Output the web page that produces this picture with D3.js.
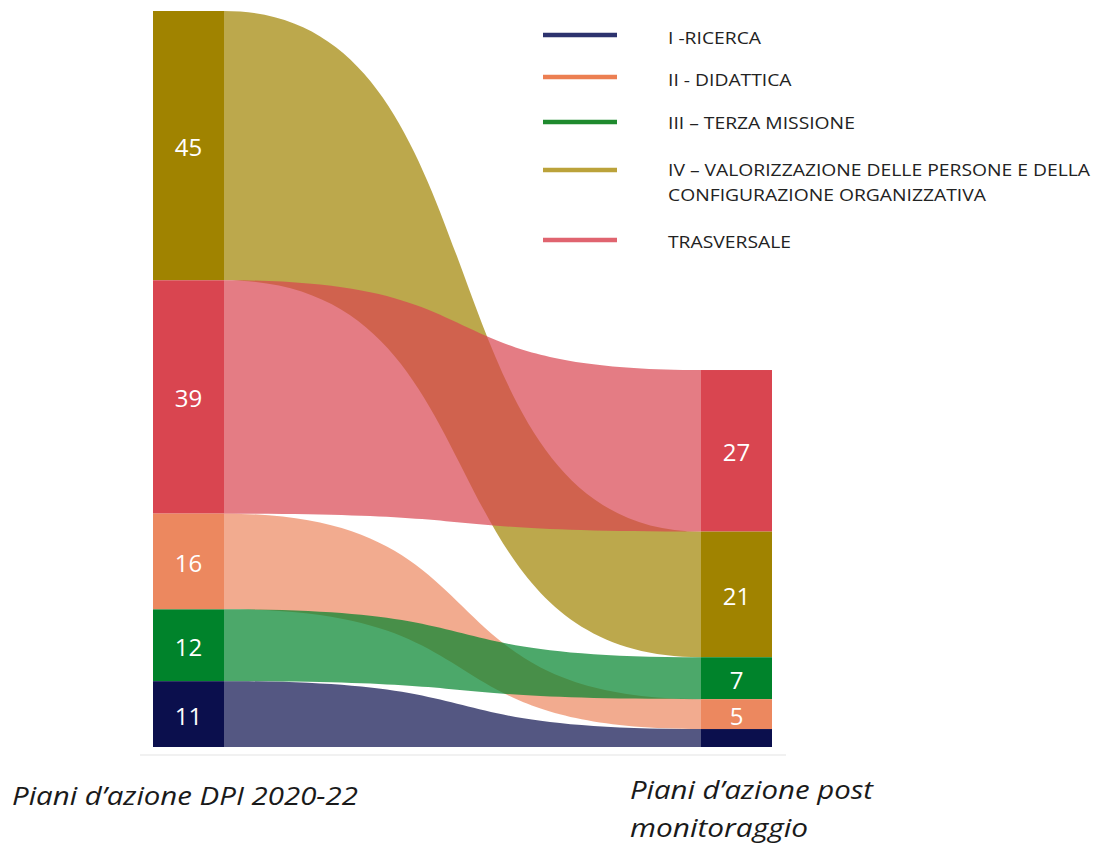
<!DOCTYPE html>
<html>
<head>
<meta charset="utf-8">
<script src="https://cdn.jsdelivr.net/npm/d3@7"></script>
<style>
  html, body { margin: 0; padding: 0; background: #fff; }
  svg { display: block; }
</style>
</head>
<body>
<svg id="chart" width="1096" height="849"></svg>
<script>
// ---- Data ----
const categories = ["IV", "TRASVERSALE", "II", "III", "I"]; // left order, top to bottom
const leftValues = [45, 39, 16, 12, 11];
const rightOrder = ["TRASVERSALE", "IV", "III", "II", "I"]; // right order, top to bottom
const rightValuesByCat = { "TRASVERSALE": 27, "IV": 21, "III": 7, "II": 5, "I": 3 };
const rightLabelsByCat = { "TRASVERSALE": "27", "IV": "21", "III": "7", "II": "5", "I": "" };
const nodeColors = { "IV": "#a08300", "TRASVERSALE": "#d94550", "II": "#ec885f", "III": "#00832b", "I": "#0b0f4d" };
const legendCats = ["I", "II", "III", "IV", "TRASVERSALE"];
const legendLabels = [
  ["I -RICERCA"],
  ["II - DIDATTICA"],
  ["III \u2013 TERZA MISSIONE"],
  ["IV \u2013 VALORIZZAZIONE DELLE PERSONE E DELLA", "CONFIGURAZIONE ORGANIZZATIVA"],
  ["TRASVERSALE"]
];
const legendColors = ["#2d336e", "#ec7f52", "#1f8a2e", "#bba23a", "#e0646f"];
const axisLabelLeft = ["Piani d\u2019azione DPI 2020-22"];
const axisLabelRight = ["Piani d\u2019azione post", "monitoraggio"];
const linkDrawOrder = ["IV", "TRASVERSALE", "II", "III", "I"];

// ---- Layout ----
const svg = d3.select("#chart");
const total = d3.sum(leftValues);
const plotTop = 11, plotBottom = 747;
const h = d3.scaleLinear().domain([0, total]).range([0, plotBottom - plotTop]);
const x = d3.scalePoint().domain(["left", "right"]).range([153, 701]);
const nodeW = 71;

// left nodes
const leftNodes = {};
let acc = 0;
categories.forEach((c, i) => {
  leftNodes[c] = { y0: plotTop + h(acc), y1: plotTop + h(acc + leftValues[i]), v: leftValues[i] };
  acc += leftValues[i];
});
// right nodes (bottom-aligned)
const rightTotal = d3.sum(rightOrder, c => rightValuesByCat[c]);
const rightNodes = {};
acc = 0;
rightOrder.forEach(c => {
  const v = rightValuesByCat[c];
  rightNodes[c] = { y0: plotBottom - h(rightTotal) + h(acc), y1: plotBottom - h(rightTotal) + h(acc + v), v };
  acc += v;
});

// baseline
svg.append("line")
  .attr("x1", 140).attr("x2", 786).attr("y1", 755).attr("y2", 755)
  .attr("stroke", "#ececec").attr("stroke-width", 1.5);

// links
const x0 = x("left") + nodeW, x1 = x("right");
const k = 0.6;
const xa = x0 + k * (x1 - x0), xb = x1 - k * (x1 - x0);
const gLinks = svg.append("g");
linkDrawOrder.forEach(c => {
  const s = leftNodes[c], t = rightNodes[c];
  const p = d3.path();
  p.moveTo(x0, s.y0);
  p.bezierCurveTo(xa, s.y0, xb, t.y0, x1, t.y0);
  p.lineTo(x1, t.y1);
  p.bezierCurveTo(xb, t.y1, xa, s.y1, x0, s.y1);
  p.closePath();
  gLinks.append("path")
    .attr("d", p.toString())
    .attr("fill", nodeColors[c])
    .attr("fill-opacity", 0.7);
});

// nodes
const gNodes = svg.append("g");
const labelFont = "'Segoe UI','Open Sans',sans-serif";
categories.forEach(c => {
  const n = leftNodes[c];
  gNodes.append("rect").attr("x", x("left")).attr("y", n.y0)
    .attr("width", nodeW).attr("height", n.y1 - n.y0).attr("fill", nodeColors[c]);
  gNodes.append("text").attr("x", x("left") + nodeW / 2).attr("y", (n.y0 + n.y1) / 2 + 1)
    .attr("text-anchor", "middle").attr("dominant-baseline", "central")
    .attr("fill", "#fff").style("font-family", labelFont)
    .style("font-size", "24px").text(n.v);
});
rightOrder.forEach(c => {
  const n = rightNodes[c];
  gNodes.append("rect").attr("x", x("right")).attr("y", n.y0)
    .attr("width", nodeW).attr("height", n.y1 - n.y0).attr("fill", nodeColors[c]);
  if (rightLabelsByCat[c]) {
    gNodes.append("text").attr("x", x("right") + nodeW / 2).attr("y", (n.y0 + n.y1) / 2 + 1)
      .attr("text-anchor", "middle").attr("dominant-baseline", "central")
      .attr("fill", "#fff").style("font-family", labelFont)
      .style("font-size", "24px").text(rightLabelsByCat[c]);
  }
});

// legend
const legendY = [35, 77, 122, 170, 240];
const legendTextY = [[37], [79], [122], [169, 194], [241]];
const gLeg = svg.append("g");
const legTexts = [];
legendCats.forEach((c, i) => {
  gLeg.append("line").attr("x1", 543).attr("x2", 617)
    .attr("y1", legendY[i]).attr("y2", legendY[i])
    .attr("stroke", legendColors[i]).attr("stroke-width", 4.5);
  legendLabels[i].forEach((ln, j) => {
    const t = gLeg.append("text").attr("x", 668).attr("y", legendTextY[i][j])
      .attr("dominant-baseline", "central")
      .attr("fill", "#222")
      .style("font-family", "'Open Sans',sans-serif")
      .style("font-size", "17px").text(ln);
    legTexts.push(t);
  });
});
// stretch legend text to match reference width (long line spans ~422px)
const longNode = legTexts[3].node();
const factor = 422 / longNode.getComputedTextLength();
legTexts.forEach(t => {
  const w = t.node().getComputedTextLength();
  t.attr("textLength", w * factor).attr("lengthAdjust", "spacingAndGlyphs");
});

// axis labels
function axisText(str, xPos, yPos, size, width) {
  svg.append("text").attr("x", xPos).attr("y", yPos)
    .style("font-family", "'Open Sans',sans-serif")
    .style("font-style", "italic").style("font-size", size + "px")
    .attr("fill", "#1a1a1a")
    .attr("textLength", width).attr("lengthAdjust", "spacingAndGlyphs")
    .text(str);
}
axisText(axisLabelLeft[0], 12, 805, 26, 346);
axisText(axisLabelRight[0], 630, 799, 25, 243);
axisText(axisLabelRight[1], 630, 837, 25, 178);
</script>
</body>
</html>
